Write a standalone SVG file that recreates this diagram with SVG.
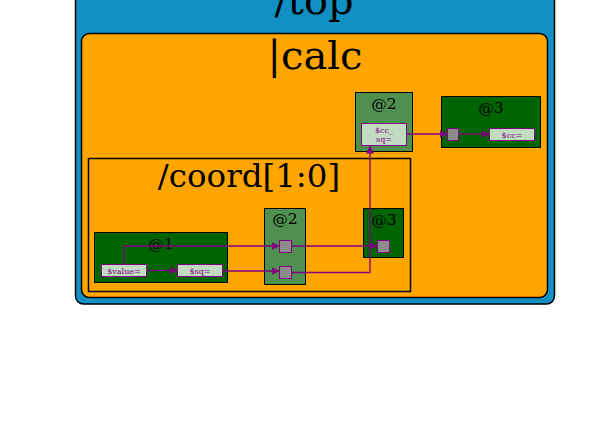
<svg xmlns="http://www.w3.org/2000/svg" width="600" height="422" viewBox="0 0 600 422">
<defs>
<style>
.cl{stroke:#000;stroke-width:1.5}
.lbl{font-family:"DejaVu Serif","Liberation Serif",serif;fill:#000;text-anchor:middle}
.nd{stroke:#000;stroke-width:1}
.dk{fill:#006400}
.md{fill:#4f8f4f}
.box{fill:#c2dcc2;stroke:#800080;stroke-width:1}
.sq{fill:#8c8c8c;stroke:#800080;stroke-width:1}
.sm{font-family:"DejaVu Serif","Liberation Serif",serif;font-size:8px;fill:#800080;text-anchor:middle}
.e{fill:none;stroke:#800080;stroke-width:1.3}
</style>
<marker id="ah" viewBox="0 0 10 10" refX="10" refY="5" markerWidth="8" markerHeight="8" markerUnits="userSpaceOnUse" orient="auto">
<path d="M0,0 L10,5 L0,10 z" fill="#800080"/>
</marker>
</defs>
<rect width="600" height="422" fill="#fff"/>
<g id="cluster_top">
<rect class="cl" x="75.5" y="-30" width="479" height="334" rx="8" fill="#1290c3"/>
<text class="lbl" x="314" y="14" font-size="40">/top</text>
</g>
<g id="cluster_calc">
<rect class="cl" x="81.5" y="33.5" width="466" height="264" rx="8" fill="#ffa500"/>
<text class="lbl" x="315" y="69" font-size="40">|calc</text>
</g>
<g id="cluster_coord">
<rect class="cl" x="88.5" y="158.5" width="322" height="133" fill="none"/>
<text class="lbl" x="249" y="187" font-size="32.5">/coord[1:0]</text>
</g>
<g id="calc_at2">
<rect class="nd md" x="355.5" y="92.5" width="57" height="59"/>
<text class="lbl" x="384" y="109" font-size="15.5">@2</text>
<rect class="box" x="361.5" y="123.5" width="45" height="22"/>
<text class="sm" x="384" y="132.5">$cc_</text>
<text class="sm" x="384" y="142">sq=</text>
</g>
<g id="calc_at3">
<rect class="nd dk" x="441.5" y="96.5" width="99" height="51"/>
<text class="lbl" x="491" y="113" font-size="15.5">@3</text>
<rect class="sq" x="447.5" y="128.5" width="11" height="12"/>
<rect class="box" x="489.5" y="128.5" width="45" height="12"/>
<text class="sm" x="512" y="137.5">$cc=</text>
</g>
<g id="coord_at1">
<rect class="nd dk" x="94.5" y="232.5" width="133" height="50"/>
<text class="lbl" x="161" y="249" font-size="15.5">@1</text>
<rect class="box" x="101.5" y="264.5" width="45" height="12"/>
<text class="sm" x="124" y="273.5">$value=</text>
<rect class="box" x="177.5" y="264.5" width="45" height="12"/>
<text class="sm" x="200" y="273.5">$sq=</text>
</g>
<g id="coord_at2">
<rect class="nd md" x="264.5" y="208.5" width="41" height="76"/>
<text class="lbl" x="285" y="224" font-size="15.5">@2</text>
<rect class="sq" x="279.5" y="240.5" width="12" height="12"/>
<rect class="sq" x="279.5" y="266.5" width="12" height="12"/>
</g>
<g id="coord_at3">
<rect class="nd dk" x="363.5" y="208.5" width="40" height="49"/>
<text class="lbl" x="384" y="225" font-size="15.5">@3</text>
<rect class="sq" x="377.5" y="240.5" width="12" height="12"/>
</g>
<g id="edges">
<path class="e" d="M124,264.5 V246 H279.5" marker-end="url(#ah)"/>
<path class="e" d="M291.5,246 H377.5" marker-end="url(#ah)"/>
<path class="e" d="M146.5,270.5 H177.5" marker-end="url(#ah)"/>
<path class="e" d="M222.5,271 H279.5" marker-end="url(#ah)"/>
<path class="e" d="M291.5,272.5 H370 V145.5" marker-end="url(#ah)"/>
<path class="e" d="M406.5,134 H447.5" marker-end="url(#ah)"/>
<path class="e" d="M458.5,134 H489.5" marker-end="url(#ah)"/>
</g>
</svg>
